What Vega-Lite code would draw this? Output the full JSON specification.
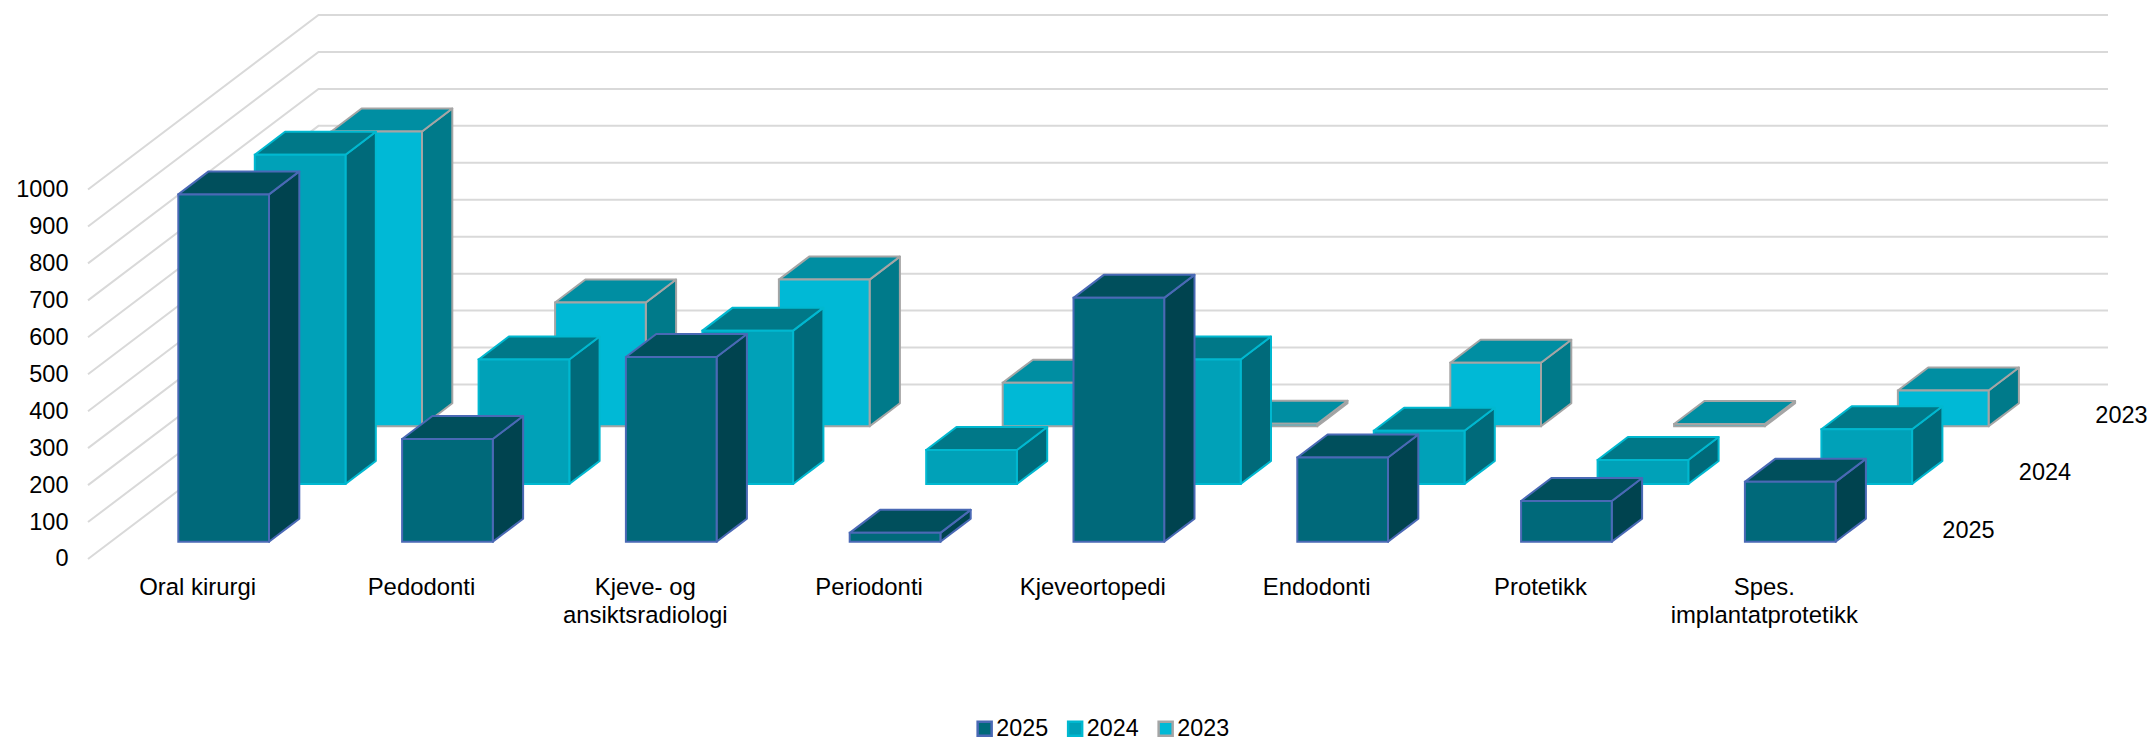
{"$schema":"https://vega.github.io/schema/vega-lite/v6.json","width":2066,"height":741,"autosize":{"type":"none"},"padding":{"left":88,"top":0,"right":0,"bottom":0},"background":"white","config":{"view":{"stroke":null},"font":"Liberation Sans"},"datasets":{"bars":[{"kategori":"Oral kirurgi","aar":"2025","verdi":940},{"kategori":"Pedodonti","aar":"2025","verdi":278},{"kategori":"Kjeve- og ansiktsradiologi","aar":"2025","verdi":500},{"kategori":"Periodonti","aar":"2025","verdi":24},{"kategori":"Kjeveortopedi","aar":"2025","verdi":660},{"kategori":"Endodonti","aar":"2025","verdi":228},{"kategori":"Protetikk","aar":"2025","verdi":110},{"kategori":"Spes. implantatprotetikk","aar":"2025","verdi":162},{"kategori":"Oral kirurgi","aar":"2024","verdi":891},{"kategori":"Pedodonti","aar":"2024","verdi":337},{"kategori":"Kjeve- og ansiktsradiologi","aar":"2024","verdi":415},{"kategori":"Periodonti","aar":"2024","verdi":92},{"kategori":"Kjeveortopedi","aar":"2024","verdi":337},{"kategori":"Endodonti","aar":"2024","verdi":144},{"kategori":"Protetikk","aar":"2024","verdi":65},{"kategori":"Spes. implantatprotetikk","aar":"2024","verdi":148},{"kategori":"Oral kirurgi","aar":"2023","verdi":798},{"kategori":"Pedodonti","aar":"2023","verdi":335},{"kategori":"Kjeve- og ansiktsradiologi","aar":"2023","verdi":397},{"kategori":"Periodonti","aar":"2023","verdi":118},{"kategori":"Kjeveortopedi","aar":"2023","verdi":7},{"kategori":"Endodonti","aar":"2023","verdi":172},{"kategori":"Protetikk","aar":"2023","verdi":6},{"kategori":"Spes. implantatprotetikk","aar":"2023","verdi":97}],"ticks":[{"v":0},{"v":100},{"v":200},{"v":300},{"v":400},{"v":500},{"v":600},{"v":700},{"v":800},{"v":900},{"v":1000}],"cats":[{"i":0,"label":"Oral kirurgi"},{"i":1,"label":"Pedodonti"},{"i":2,"label":"Kjeve- og\nansiktsradiologi"},{"i":3,"label":"Periodonti"},{"i":4,"label":"Kjeveortopedi"},{"i":5,"label":"Endodonti"},{"i":6,"label":"Protetikk"},{"i":7,"label":"Spes.\nimplantatprotetikk"}],"years":[{"aar":"2025","d":0},{"aar":"2024","d":1},{"aar":"2023","d":2}]},"layer":[{"data":{"name":"ticks"},"transform":[{"calculate":"[0,1,2]","as":"k"},{"flatten":["k"]},{"calculate":"datum.k==0?0:(datum.k==1?1.03:9.026)","as":"gx"},{"calculate":"datum.k==0?datum.v:datum.v+472.3","as":"gy"}],"mark":{"type":"line","stroke":"#D9D9D9","strokeWidth":2},"encoding":{"x":{"field":"gx","type":"quantitative","scale":{"domain":[0,9.2315],"nice":false,"zero":false},"axis":null},"y":{"field":"gy","type":"quantitative","stack":null,"scale":{"domain":[-492.6,1512.9],"nice":false,"zero":false},"axis":{"values":[0,100,200,300,400,500,600,700,800,900,1000],"format":"d","domain":false,"ticks":false,"grid":false,"title":null,"labelPadding":20,"labelFontSize":23.5,"labelColor":"#000000","labelFont":"Liberation Sans"}},"detail":{"field":"v"}}},{"data":{"name":"bars"},"transform":[{"calculate":"indexof(['Oral kirurgi','Pedodonti','Kjeve- og ansiktsradiologi','Periodonti','Kjeveortopedi','Endodonti','Protetikk','Spes. implantatprotetikk'],datum.kategori)","as":"idx"},{"calculate":"indexof(['2025','2024','2023'],datum.aar)","as":"d"},{"calculate":"datum.idx+0.4035+datum.d*0.3418","as":"xL"},{"calculate":"datum.xL+0.4053","as":"xR"},{"calculate":"46.8+datum.d*156.2","as":"base"},{"calculate":"datum.base+datum.verdi","as":"top"},{"calculate":"[0,1,2,3]","as":"k"},{"flatten":["k"]},{"calculate":"datum.xR+0.1354*datum.k/3","as":"xs"},{"calculate":"datum.base+62.2*datum.k/3","as":"ys"},{"calculate":"datum.top+62.2*datum.k/3","as":"ys2"},{"calculate":"datum.k==0?datum.xL:(datum.k==1?datum.xL+0.1354:(datum.k==2?datum.xR:datum.xR+0.1354))","as":"xt"},{"calculate":"datum.k==3?datum.top+62.2:datum.top","as":"yt"},{"calculate":"datum.k==0?datum.top:datum.top+62.2","as":"yt2"}],"layer":[{"transform":[{"filter":"datum.aar=='2023'"}],"mark":{"type":"area","orient":"vertical","fill":"#007A8A","stroke":"#A5A5A5","strokeWidth":2,"strokeJoin":"round"},"encoding":{"x":{"field":"xs","type":"quantitative","scale":{"domain":[0,9.2315],"nice":false,"zero":false},"axis":null},"y":{"field":"ys","type":"quantitative","stack":null,"scale":{"domain":[-492.6,1512.9],"nice":false,"zero":false}},"y2":{"field":"ys2"},"detail":{"field":"kategori"}}},{"transform":[{"filter":"datum.aar=='2023'"}],"mark":{"type":"area","orient":"vertical","fill":"#008EA2","stroke":"#A5A5A5","strokeWidth":2,"strokeJoin":"round"},"encoding":{"x":{"field":"xt","type":"quantitative","scale":{"domain":[0,9.2315],"nice":false,"zero":false},"axis":null},"y":{"field":"yt","type":"quantitative","stack":null,"scale":{"domain":[-492.6,1512.9],"nice":false,"zero":false}},"y2":{"field":"yt2"},"detail":{"field":"kategori"}}},{"transform":[{"filter":"datum.aar=='2023' && datum.k==0"}],"mark":{"type":"rect","strokeWidth":2},"encoding":{"x":{"field":"xL","type":"quantitative","scale":{"domain":[0,9.2315],"nice":false,"zero":false},"axis":null},"x2":{"field":"xR"},"y":{"field":"base","type":"quantitative","stack":null,"scale":{"domain":[-492.6,1512.9],"nice":false,"zero":false}},"y2":{"field":"top"},"fill":{"field":"aar","type":"nominal","scale":{"domain":["2025","2024","2023"],"range":["#00697A","#00A1B8","#00B9D6"]},"legend":{"title":null,"orient":"none","legendX":885,"legendY":717,"direction":"horizontal","columns":3,"symbolType":"square","symbolSize":196,"symbolStrokeWidth":2.5,"labelOffset":0,"columnPadding":13.5,"labelFontSize":23.3,"labelColor":"#000000","labelFont":"Liberation Sans"}},"stroke":{"field":"aar","type":"nominal","scale":{"domain":["2025","2024","2023"],"range":["#4A69B5","#00B8D0","#A5A5A5"]}}}},{"transform":[{"filter":"datum.aar=='2024'"}],"mark":{"type":"area","orient":"vertical","fill":"#006A7A","stroke":"#00B8D0","strokeWidth":2,"strokeJoin":"round"},"encoding":{"x":{"field":"xs","type":"quantitative","scale":{"domain":[0,9.2315],"nice":false,"zero":false},"axis":null},"y":{"field":"ys","type":"quantitative","stack":null,"scale":{"domain":[-492.6,1512.9],"nice":false,"zero":false}},"y2":{"field":"ys2"},"detail":{"field":"kategori"}}},{"transform":[{"filter":"datum.aar=='2024'"}],"mark":{"type":"area","orient":"vertical","fill":"#007888","stroke":"#00B8D0","strokeWidth":2,"strokeJoin":"round"},"encoding":{"x":{"field":"xt","type":"quantitative","scale":{"domain":[0,9.2315],"nice":false,"zero":false},"axis":null},"y":{"field":"yt","type":"quantitative","stack":null,"scale":{"domain":[-492.6,1512.9],"nice":false,"zero":false}},"y2":{"field":"yt2"},"detail":{"field":"kategori"}}},{"transform":[{"filter":"datum.aar=='2024' && datum.k==0"}],"mark":{"type":"rect","strokeWidth":2},"encoding":{"x":{"field":"xL","type":"quantitative","scale":{"domain":[0,9.2315],"nice":false,"zero":false},"axis":null},"x2":{"field":"xR"},"y":{"field":"base","type":"quantitative","stack":null,"scale":{"domain":[-492.6,1512.9],"nice":false,"zero":false}},"y2":{"field":"top"},"fill":{"field":"aar","type":"nominal","scale":{"domain":["2025","2024","2023"],"range":["#00697A","#00A1B8","#00B9D6"]}},"stroke":{"field":"aar","type":"nominal","scale":{"domain":["2025","2024","2023"],"range":["#4A69B5","#00B8D0","#A5A5A5"]}}}},{"transform":[{"filter":"datum.aar=='2025'"}],"mark":{"type":"area","orient":"vertical","fill":"#00434F","stroke":"#4A69B5","strokeWidth":2,"strokeJoin":"round"},"encoding":{"x":{"field":"xs","type":"quantitative","scale":{"domain":[0,9.2315],"nice":false,"zero":false},"axis":null},"y":{"field":"ys","type":"quantitative","stack":null,"scale":{"domain":[-492.6,1512.9],"nice":false,"zero":false}},"y2":{"field":"ys2"},"detail":{"field":"kategori"}}},{"transform":[{"filter":"datum.aar=='2025'"}],"mark":{"type":"area","orient":"vertical","fill":"#004F5C","stroke":"#4A69B5","strokeWidth":2,"strokeJoin":"round"},"encoding":{"x":{"field":"xt","type":"quantitative","scale":{"domain":[0,9.2315],"nice":false,"zero":false},"axis":null},"y":{"field":"yt","type":"quantitative","stack":null,"scale":{"domain":[-492.6,1512.9],"nice":false,"zero":false}},"y2":{"field":"yt2"},"detail":{"field":"kategori"}}},{"transform":[{"filter":"datum.aar=='2025' && datum.k==0"}],"mark":{"type":"rect","strokeWidth":2},"encoding":{"x":{"field":"xL","type":"quantitative","scale":{"domain":[0,9.2315],"nice":false,"zero":false},"axis":null},"x2":{"field":"xR"},"y":{"field":"base","type":"quantitative","stack":null,"scale":{"domain":[-492.6,1512.9],"nice":false,"zero":false}},"y2":{"field":"top"},"fill":{"field":"aar","type":"nominal","scale":{"domain":["2025","2024","2023"],"range":["#00697A","#00A1B8","#00B9D6"]}},"stroke":{"field":"aar","type":"nominal","scale":{"domain":["2025","2024","2023"],"range":["#4A69B5","#00B8D0","#A5A5A5"]}}}}]},{"data":{"name":"cats"},"transform":[{"calculate":"datum.i+0.49","as":"lx"},{"calculate":"-97.4","as":"ly"}],"mark":{"type":"text","align":"center","baseline":"alphabetic","fontSize":23.9,"font":"Liberation Sans","color":"#000000","lineBreak":"\n","lineHeight":28},"encoding":{"x":{"field":"lx","type":"quantitative","scale":{"domain":[0,9.2315],"nice":false,"zero":false},"axis":null},"y":{"field":"ly","type":"quantitative","stack":null,"scale":{"domain":[-492.6,1512.9],"nice":false,"zero":false}},"text":{"field":"label"}}},{"data":{"name":"years"},"transform":[{"calculate":"8.4026+0.3418*datum.d","as":"lx"},{"calculate":"56.8+156.2*datum.d","as":"ly"}],"mark":{"type":"text","align":"center","baseline":"alphabetic","fontSize":23.5,"font":"Liberation Sans","color":"#000000"},"encoding":{"x":{"field":"lx","type":"quantitative","scale":{"domain":[0,9.2315],"nice":false,"zero":false},"axis":null},"y":{"field":"ly","type":"quantitative","stack":null,"scale":{"domain":[-492.6,1512.9],"nice":false,"zero":false}},"text":{"field":"aar"}}}]}
